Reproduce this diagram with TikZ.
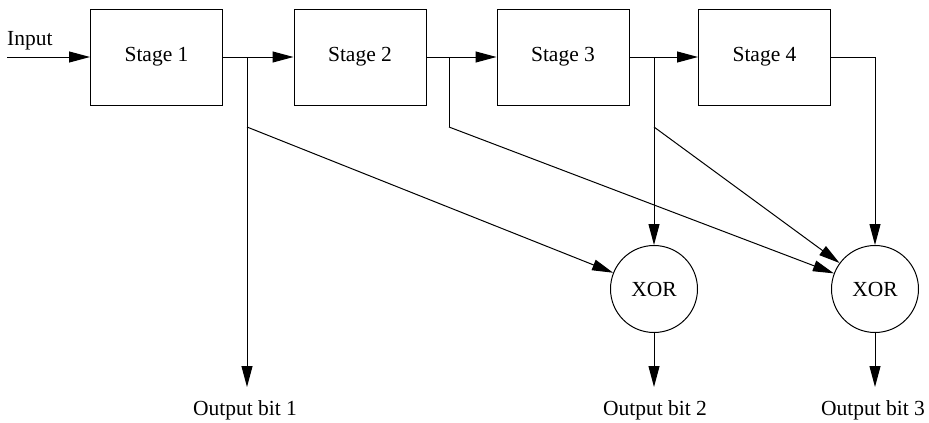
\documentclass[tikz,border=0pt]{standalone}
\usepackage{fontspec}
\setmainfont{Liberation Serif}
\usetikzlibrary{arrows.meta}
\begin{document}
\begin{tikzpicture}[x=1pt,y=-1pt,
  every node/.style={font=\fontsize{21.5}{25}\selectfont},
  stagebox/.style={draw,line width=1pt,rectangle,minimum width=132pt,minimum height=96pt,inner sep=0pt},
  xorgate/.style={draw,line width=1pt,circle,minimum size=87pt,inner sep=0pt},
  wire/.style={line width=1pt},
  arr/.style={wire,-{Triangle[length=21pt,width=11pt]}},
  lbl/.style={anchor=base,inner sep=0pt}]
\useasboundingbox (0,0) rectangle (929,423);
\node[stagebox] (s1) at (156.5,57) {Stage 1};
\node[stagebox] (s2) at (360,57) {Stage 2};
\node[stagebox] (s3) at (563,57) {Stage 3};
\node[stagebox] (s4) at (764.5,57) {Stage 4};
\node[xorgate] (x1) at (654,289) {XOR};
\node[xorgate] (x2) at (875,289) {XOR};
\node[lbl,anchor=base west] (in) at (7,45) {Input};
\coordinate (inS) at (7,57);
\coordinate (b1) at (247,57);
\coordinate (b1d) at (247,127);
\coordinate (b2) at (449,57);
\coordinate (b2d) at (449,127);
\coordinate (b3) at (654,57);
\coordinate (b3d) at (654,127);
\coordinate (c4) at (875,57);
\coordinate (o1) at (247,387);
\coordinate (o2) at (654,387);
\coordinate (o3) at (875,387);
\node[lbl] (l1) at (245,415) {Output bit 1};
\node[lbl] (l2) at (655,415) {Output bit 2};
\node[lbl] (l3) at (873,415) {Output bit 3};
\draw[arr] (inS) -- (s1.west);
\draw[arr] (s1.east) -- (s2.west);
\draw[arr] (s2.east) -- (s3.west);
\draw[arr] (s3.east) -- (s4.west);
\draw[arr] (b1) -- (o1);
\draw[arr] (b1d) -- (x1);
\draw[wire] (b2) -- (b2d);
\draw[arr] (b2d) -- (x2);
\draw[arr] (b3) -- (x1.north);
\draw[arr] (b3d) -- (x2);
\draw[arr] (s4.east) -- (c4) -- (x2.north);
\draw[arr] (x1.south) -- (o2);
\draw[arr] (x2.south) -- (o3);
\end{tikzpicture}
\end{document}
